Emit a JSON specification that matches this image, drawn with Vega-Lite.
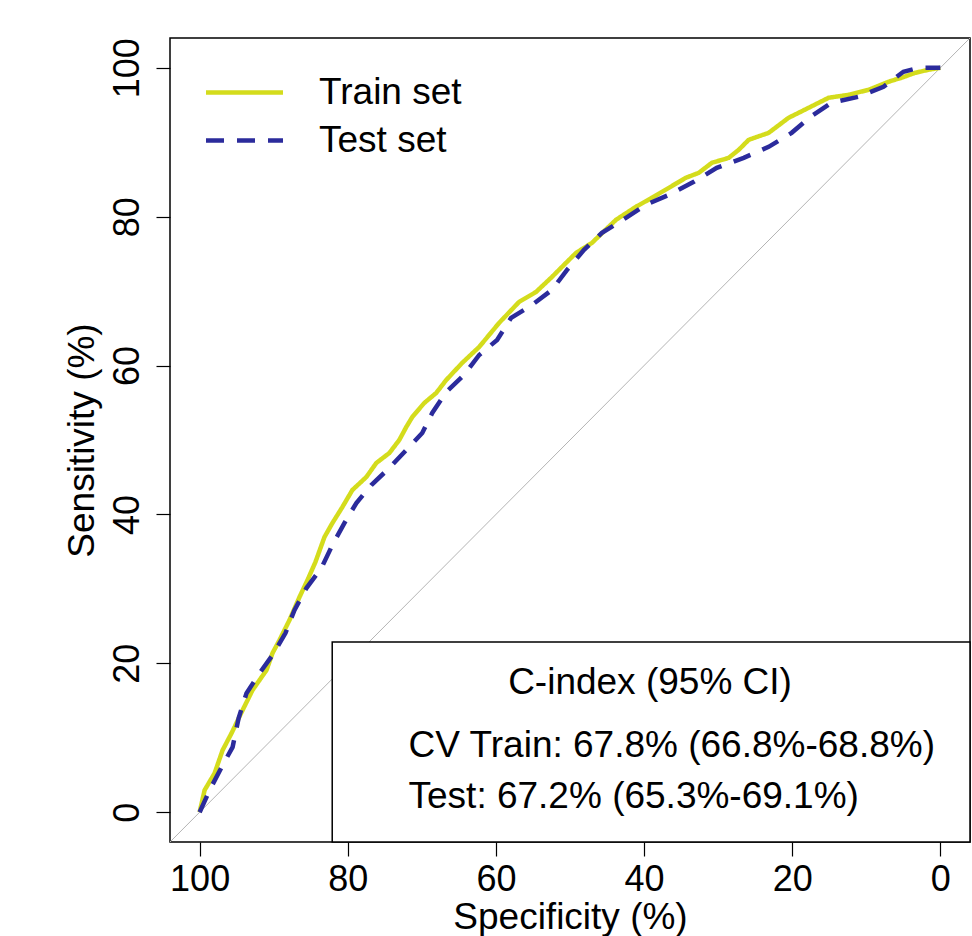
{
  "$schema": "https://vega.github.io/schema/vega-lite/v6.json",
  "width": 800,
  "height": 804,
  "autosize": {"type": "none"},
  "padding": {"left": 170, "top": 38, "right": 2, "bottom": 94},
  "background": "white",
  "config": {
    "font": "Liberation Sans",
    "view": {"stroke": "#000000", "strokeWidth": 1.5},
    "axis": {
      "domain": false,
      "grid": false,
      "tickColor": "#000000",
      "tickSize": 14,
      "tickWidth": 1.2,
      "labelFont": "Liberation Sans",
      "labelFontSize": 36,
      "labelColor": "#000000",
      "titleFont": "Liberation Sans",
      "titleFontSize": 37,
      "titleFontWeight": "normal",
      "titleColor": "#000000"
    }
  },
  "datasets": {
    "roc": [
      {"set": "Train set", "spec": 100, "sens": 0},
      {"set": "Train set", "spec": 99.33, "sens": 2.96},
      {"set": "Train set", "spec": 97.98, "sens": 5.24},
      {"set": "Train set", "spec": 96.9, "sens": 8.33},
      {"set": "Train set", "spec": 95.69, "sens": 10.62},
      {"set": "Train set", "spec": 94.2, "sens": 13.71},
      {"set": "Train set", "spec": 92.86, "sens": 16.4},
      {"set": "Train set", "spec": 90.97, "sens": 19.09},
      {"set": "Train set", "spec": 90.16, "sens": 21.37},
      {"set": "Train set", "spec": 89.22, "sens": 23.12},
      {"set": "Train set", "spec": 87.87, "sens": 25.81},
      {"set": "Train set", "spec": 86.52, "sens": 28.9},
      {"set": "Train set", "spec": 85.44, "sens": 31.18},
      {"set": "Train set", "spec": 84.37, "sens": 33.6},
      {"set": "Train set", "spec": 83.15, "sens": 36.96},
      {"set": "Train set", "spec": 82.08, "sens": 38.84},
      {"set": "Train set", "spec": 80.73, "sens": 40.99},
      {"set": "Train set", "spec": 79.38, "sens": 43.28},
      {"set": "Train set", "spec": 77.49, "sens": 45.03},
      {"set": "Train set", "spec": 76.15, "sens": 46.91},
      {"set": "Train set", "spec": 74.39, "sens": 48.25},
      {"set": "Train set", "spec": 73.05, "sens": 50.0},
      {"set": "Train set", "spec": 72.1, "sens": 51.75},
      {"set": "Train set", "spec": 71.29, "sens": 53.09},
      {"set": "Train set", "spec": 69.68, "sens": 54.97},
      {"set": "Train set", "spec": 68.06, "sens": 56.32},
      {"set": "Train set", "spec": 66.71, "sens": 58.06},
      {"set": "Train set", "spec": 64.56, "sens": 60.35},
      {"set": "Train set", "spec": 62.26, "sens": 62.5},
      {"set": "Train set", "spec": 59.57, "sens": 65.73},
      {"set": "Train set", "spec": 56.87, "sens": 68.55},
      {"set": "Train set", "spec": 54.58, "sens": 69.89},
      {"set": "Train set", "spec": 52.43, "sens": 71.91},
      {"set": "Train set", "spec": 50.54, "sens": 73.79},
      {"set": "Train set", "spec": 49.19, "sens": 75.13},
      {"set": "Train set", "spec": 47.04, "sens": 76.48},
      {"set": "Train set", "spec": 43.8, "sens": 79.57},
      {"set": "Train set", "spec": 41.11, "sens": 81.32},
      {"set": "Train set", "spec": 38.95, "sens": 82.53},
      {"set": "Train set", "spec": 36.66, "sens": 83.87},
      {"set": "Train set", "spec": 34.37, "sens": 85.22},
      {"set": "Train set", "spec": 32.61, "sens": 85.89},
      {"set": "Train set", "spec": 30.86, "sens": 87.23},
      {"set": "Train set", "spec": 28.57, "sens": 87.9},
      {"set": "Train set", "spec": 27.22, "sens": 88.98},
      {"set": "Train set", "spec": 25.88, "sens": 90.32},
      {"set": "Train set", "spec": 23.18, "sens": 91.26},
      {"set": "Train set", "spec": 20.49, "sens": 93.28},
      {"set": "Train set", "spec": 17.79, "sens": 94.62},
      {"set": "Train set", "spec": 15.09, "sens": 95.97},
      {"set": "Train set", "spec": 12.4, "sens": 96.37},
      {"set": "Train set", "spec": 9.7, "sens": 97.04},
      {"set": "Train set", "spec": 7.01, "sens": 98.12},
      {"set": "Train set", "spec": 5.26, "sens": 98.66},
      {"set": "Train set", "spec": 3.37, "sens": 99.33},
      {"set": "Train set", "spec": 1.62, "sens": 99.73},
      {"set": "Train set", "spec": 0, "sens": 100},
      {"set": "Test set", "spec": 100, "sens": 0},
      {"set": "Test set", "spec": 98.65, "sens": 2.96},
      {"set": "Test set", "spec": 97.04, "sens": 6.05},
      {"set": "Test set", "spec": 95.55, "sens": 8.74},
      {"set": "Test set", "spec": 94.74, "sens": 12.63},
      {"set": "Test set", "spec": 93.67, "sens": 15.99},
      {"set": "Test set", "spec": 91.91, "sens": 18.68},
      {"set": "Test set", "spec": 90.16, "sens": 21.1},
      {"set": "Test set", "spec": 88.41, "sens": 24.06},
      {"set": "Test set", "spec": 87.2, "sens": 27.15},
      {"set": "Test set", "spec": 85.58, "sens": 30.11},
      {"set": "Test set", "spec": 83.56, "sens": 32.8},
      {"set": "Test set", "spec": 82.08, "sens": 35.89},
      {"set": "Test set", "spec": 80.46, "sens": 38.84},
      {"set": "Test set", "spec": 78.84, "sens": 41.53},
      {"set": "Test set", "spec": 76.82, "sens": 43.95},
      {"set": "Test set", "spec": 74.39, "sens": 46.24},
      {"set": "Test set", "spec": 72.1, "sens": 48.66},
      {"set": "Test set", "spec": 69.95, "sens": 50.94},
      {"set": "Test set", "spec": 68.6, "sens": 53.63},
      {"set": "Test set", "spec": 66.71, "sens": 56.45},
      {"set": "Test set", "spec": 64.29, "sens": 58.74},
      {"set": "Test set", "spec": 62.26, "sens": 61.42},
      {"set": "Test set", "spec": 59.84, "sens": 63.44},
      {"set": "Test set", "spec": 57.95, "sens": 66.4},
      {"set": "Test set", "spec": 55.12, "sens": 68.15},
      {"set": "Test set", "spec": 52.43, "sens": 70.16},
      {"set": "Test set", "spec": 50.4, "sens": 72.85},
      {"set": "Test set", "spec": 48.11, "sens": 75.54},
      {"set": "Test set", "spec": 45.69, "sens": 77.82},
      {"set": "Test set", "spec": 42.45, "sens": 79.84},
      {"set": "Test set", "spec": 39.76, "sens": 81.59},
      {"set": "Test set", "spec": 36.66, "sens": 82.93},
      {"set": "Test set", "spec": 33.29, "sens": 84.68},
      {"set": "Test set", "spec": 30.19, "sens": 86.56},
      {"set": "Test set", "spec": 26.55, "sens": 87.9},
      {"set": "Test set", "spec": 23.18, "sens": 89.38},
      {"set": "Test set", "spec": 20.08, "sens": 91.26},
      {"set": "Test set", "spec": 17.52, "sens": 93.41},
      {"set": "Test set", "spec": 14.69, "sens": 95.3},
      {"set": "Test set", "spec": 11.05, "sens": 96.1},
      {"set": "Test set", "spec": 7.68, "sens": 97.45},
      {"set": "Test set", "spec": 4.99, "sens": 99.46},
      {"set": "Test set", "spec": 2.96, "sens": 100},
      {"set": "Test set", "spec": 0, "sens": 100}
    ],
    "diag": [
      {"spec": 104, "sens": -4},
      {"spec": -4, "sens": 104}
    ],
    "box": [
      {"x1": 82.1, "x2": -4, "y1": -4, "y2": 22.85}
    ],
    "title": [
      {"text": "C-index (95% CI)", "x": 39.2, "y": 17.3}
    ],
    "lines": [
      {"text": "CV Train: 67.8% (66.8%-68.8%)", "x": 71.8, "y": 8.9},
      {"text": "Test: 67.2% (65.3%-69.1%)", "x": 71.8, "y": 2.0}
    ]
  },
  "layer": [
    {
      "data": {"name": "diag"},
      "mark": {"type": "line", "color": "#b4b4b4", "strokeWidth": 1, "clip": true},
      "encoding": {
        "x": {"field": "spec", "type": "quantitative", "scale": {"domain": [104, -4], "nice": false, "zero": false}},
        "y": {"field": "sens", "type": "quantitative", "scale": {"domain": [-4, 104], "nice": false, "zero": false}}
      }
    },
    {
      "data": {"name": "roc"},
      "mark": {"type": "line", "strokeWidth": 4.5, "clip": true},
      "encoding": {
        "x": {
          "field": "spec", "type": "quantitative",
          "scale": {"domain": [104, -4], "nice": false, "zero": false},
          "axis": {"values": [100, 80, 60, 40, 20, 0], "title": "Specificity (%)", "labelPadding": 6, "titlePadding": 2}
        },
        "y": {
          "field": "sens", "type": "quantitative",
          "scale": {"domain": [-4, 104], "nice": false, "zero": false},
          "axis": {"values": [0, 20, 40, 60, 80, 100], "title": "Sensitivity (%)", "labelAngle": -90, "labelAlign": "center", "labelBaseline": "bottom", "labelPadding": 10, "titlePadding": 8}
        },
        "color": {
          "field": "set", "type": "nominal",
          "scale": {"domain": ["Train set", "Test set"], "range": ["#d4dc1c", "#2b2b9c"]},
          "legend": {
            "orient": "none", "legendX": 53, "legendY": 33, "title": null,
            "symbolType": "M-2,0H2", "symbolSize": 1482, "symbolStrokeWidth": 4.5,
            "labelFontSize": 37, "labelFont": "Liberation Sans", "labelColor": "#000000",
            "labelOffset": 53, "rowPadding": 8, "padding": 0
          }
        },
        "strokeDash": {
          "field": "set", "type": "nominal",
          "scale": {"domain": ["Train set", "Test set"], "range": [[1, 0], [18, 13]]},
          "legend": {
            "orient": "none", "legendX": 53, "legendY": 33, "title": null,
            "symbolType": "M-2,0H2", "symbolSize": 1482, "symbolStrokeWidth": 4.5,
            "labelFontSize": 37, "labelFont": "Liberation Sans", "labelColor": "#000000",
            "labelOffset": 53, "rowPadding": 8, "padding": 0
          }
        }
      }
    },
    {
      "data": {"name": "box"},
      "mark": {"type": "rect", "fill": "white", "stroke": "#000000", "strokeWidth": 1.5},
      "encoding": {
        "x": {"field": "x1", "type": "quantitative"},
        "x2": {"field": "x2"},
        "y": {"field": "y1", "type": "quantitative"},
        "y2": {"field": "y2"}
      }
    },
    {
      "data": {"name": "title"},
      "mark": {"type": "text", "fontSize": 37, "font": "Liberation Sans", "baseline": "middle", "align": "center", "color": "#000000"},
      "encoding": {
        "x": {"field": "x", "type": "quantitative"},
        "y": {"field": "y", "type": "quantitative"},
        "text": {"field": "text"}
      }
    },
    {
      "data": {"name": "lines"},
      "mark": {"type": "text", "fontSize": 37, "font": "Liberation Sans", "baseline": "middle", "align": "left", "color": "#000000"},
      "encoding": {
        "x": {"field": "x", "type": "quantitative"},
        "y": {"field": "y", "type": "quantitative"},
        "text": {"field": "text"}
      }
    }
  ]
}
